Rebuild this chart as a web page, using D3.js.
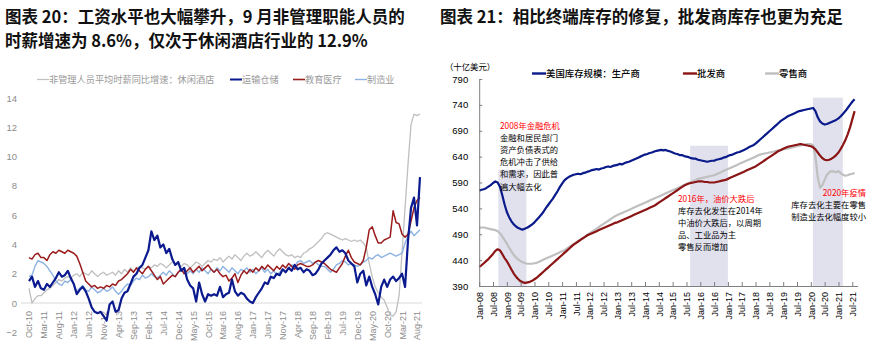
<!DOCTYPE html>
<html><head><meta charset="utf-8">
<script src="https://cdn.jsdelivr.net/npm/d3@7/dist/d3.min.js"></script>
<style>
body{margin:0;background:#fff;}
svg{display:block;}
</style></head><body>
<svg id="c" width="877" height="350"></svg>
<script>
// ---------------- LEFT CHART DATA (monthly, Oct-2010 .. Sep-2021) ----------------
const wageTickLabels = ["Oct-10","Mar-11","Aug-11","Jan-12","Jun-12","Nov-12","Apr-13","Sep-13","Feb-14","Jul-14","Dec-14","May-15","Oct-15","Mar-16","Aug-16","Jan-17","Jun-17","Nov-17","Apr-18","Sep-18","Feb-19","Jul-19","Dec-19","May-20","Oct-20","Mar-21","Aug-21"];
const wageYTicks = [-2,0,2,4,6,8,10,12,14];
const wageSeriesNames = ["非管理人员平均时薪同比增速：休闲酒店","运输仓储","教育医疗","制造业"];
const leisure = [1.0,0.0,0.3,
 0.5,0.5,0.7,0.9,1.0,1.2,1.4,1.6,1.5,1.7,1.8,1.7,
 1.9,2.0,1.8,2.1,2.0,1.9,2.2,2.0,1.8,2.0,2.1,1.9,
 2.0,2.1,1.9,2.2,2.0,2.3,2.1,2.4,2.2,2.3,2.5,2.4,
 2.3,2.5,2.4,2.6,2.5,2.7,2.6,2.4,2.6,2.8,2.7,2.6,
 2.5,2.7,2.6,2.4,2.6,2.8,2.7,2.5,2.7,2.9,2.8,3.0,
 2.9,3.1,2.8,3.0,3.2,3.0,3.3,3.1,2.9,3.2,3.4,3.2,
 3.3,3.5,3.3,3.1,3.4,3.6,3.4,3.2,3.5,3.7,3.5,3.3,
 3.2,3.3,3.1,3.2,3.1,3.4,3.5,3.7,3.8,4.0,4.2,4.4,
 4.7,4.8,4.7,4.6,4.5,4.4,4.3,4.4,4.3,4.2,4.3,4.2,
 4.3,4.1,3.8,2.7,1.8,1.1,0.7,0.4,0.2,-0.3,-0.8,-0.9,
 -0.6,0.5,3.5,6.5,9.5,12.2,12.9,12.8,12.9];
const transport = [1.5,1.8,1.1,
 1.5,1.0,0.9,1.3,1.1,1.4,1.7,2.1,1.8,1.9,2.2,1.7,
 1.3,0.6,0.9,1.1,0.8,0.3,-0.3,-0.6,-0.7,-0.6,-0.9,-1.2,
 -0.1,0.1,-0.6,-0.5,0.3,0.7,0.8,1.3,1.8,2.0,2.4,2.6,
 3.1,3.6,4.9,4.3,4.6,3.8,4.0,3.4,3.7,3.0,2.6,2.8,
 2.2,2.4,1.6,1.2,1.0,0.1,1.4,0.6,0.1,0.6,0.5,0.6,
 0.5,1.1,0.4,0.6,0.7,1.6,0.8,0.5,0.7,0.6,0.3,0.1,
 0.0,0.4,0.7,1.0,1.4,1.3,1.8,1.7,2.0,1.9,2.3,2.1,
 2.4,2.2,2.6,2.3,2.4,2.1,2.3,2.2,1.9,2.0,2.3,2.7,
 2.9,3.1,3.3,3.6,3.8,3.5,3.6,3.4,2.9,2.7,2.5,1.4,
 2.0,2.2,1.2,1.8,1.1,0.6,-0.1,1.1,1.6,1.1,1.6,1.8,
 1.5,1.7,2.0,1.1,4.3,6.5,7.2,5.3,8.6];
const eduHealth = [3.1,3.0,3.3,
 3.4,3.1,3.1,2.9,3.3,3.5,3.4,3.6,3.5,3.4,3.6,3.5,
 3.4,3.2,2.7,2.1,1.5,1.3,1.1,1.2,1.0,1.1,1.0,1.2,
 1.1,1.3,1.2,1.5,1.6,1.8,2.0,2.3,2.1,2.4,2.2,2.0,
 2.3,2.5,2.2,1.9,1.6,1.8,1.3,1.5,1.7,1.9,1.8,2.1,
 2.3,2.0,2.2,2.4,2.1,2.3,2.5,2.2,2.4,2.6,2.3,2.1,
 2.3,2.0,1.8,1.9,1.5,1.7,2.0,1.4,1.9,2.2,2.0,2.3,
 2.1,2.4,2.2,2.5,2.3,2.6,2.4,2.2,2.5,2.3,2.6,2.4,
 2.7,2.5,2.3,2.6,2.7,2.6,2.5,2.5,2.6,2.8,2.9,2.8,
 2.7,2.5,2.3,2.2,2.1,2.4,2.7,3.2,3.6,3.1,2.8,2.7,
 2.6,2.9,3.8,5.0,5.2,4.6,4.1,4.1,4.3,4.4,4.5,6.3,
 5.5,5.4,4.7,4.5,4.7,5.6,6.5,7.0,7.2];
const manufacturing = [1.8,1.9,2.5,
 2.9,2.8,2.7,2.5,2.2,1.9,1.5,1.3,1.2,1.5,1.4,1.6,
 1.3,0.8,1.0,1.2,0.9,0.8,1.1,0.9,0.7,0.8,1.0,0.8,
 0.9,1.1,0.8,0.6,0.8,1.1,1.3,1.2,1.5,1.7,1.6,1.9,
 1.7,1.8,2.0,1.8,1.7,1.9,2.1,1.9,2.2,2.0,1.8,2.1,
 2.3,2.1,2.0,2.2,2.0,2.3,2.1,2.4,2.2,2.0,2.3,2.1,
 2.4,2.2,2.5,2.3,2.1,2.4,2.2,2.0,2.3,2.2,2.4,2.1,
 2.3,2.0,2.2,2.4,2.1,2.3,2.0,2.2,1.9,2.1,2.3,2.1,
 2.4,2.6,2.5,2.8,2.9,2.7,2.8,2.9,2.7,2.8,2.6,2.5,
 2.5,2.3,2.1,2.3,2.6,2.7,2.9,2.8,2.6,2.7,2.6,2.5,
 2.6,2.8,2.9,3.1,3.0,3.2,3.3,3.1,3.2,3.3,3.4,3.3,
 3.2,3.3,3.4,4.1,4.6,4.9,4.6,4.8,5.0];

// ---------------- RIGHT CHART DATA (monthly, Jan-2008 .. Aug-2021, $bn) ----------------
const invTickLabels = ["Jan-08","Jul-08","Jan-09","Jul-09","Jan-10","Jul-10","Jan-11","Jul-11","Jan-12","Jul-12","Jan-13","Jul-13","Jan-14","Jul-14","Jan-15","Jul-15","Jan-16","Jul-16","Jan-17","Jul-17","Jan-18","Jul-18","Jan-19","Jul-19","Jan-20","Jul-20","Jan-21","Jul-21"];
const invYTicks = [390,440,490,540,590,640,690,740,790];
const invSeriesNames = ["美国库存规模：生产商","批发商","零售商"];
const manufacturers = [
 574,576,577,579,582,585,589,592,590,582,566,548,
 533,523,515,509,505,502,500,499,501,503,506,509,
 513,518,523,528,534,541,547,553,559,566,573,581,
 588,594,598,601,603,605,606,607,606,608,609,611,
 612,614,615,616,615,617,618,620,621,620,622,623,
 624,626,625,627,629,630,632,634,636,638,640,642,
 644,645,647,648,650,651,652,653,652,653,651,650,
 648,646,645,643,643,641,640,639,637,636,636,634,
 633,632,631,630,631,632,632,634,635,636,638,639,
 641,643,644,646,648,649,651,653,655,658,660,662,
 665,669,673,677,681,685,689,693,697,701,705,709,
 712,715,718,720,722,724,726,728,729,730,731,732,
 733,734,728,716,708,704,702,703,705,707,709,711,
 714,718,723,728,734,740,746,751];
const wholesalers = [
 427,430,434,438,442,447,452,458,461,459,452,444,
 438,430,422,414,408,403,399,397,396,397,398,400,
 403,406,410,414,418,422,426,430,434,438,442,446,
 450,454,458,462,466,470,473,476,479,482,485,488,
 490,492,494,496,498,500,502,504,506,508,510,512,
 513,515,517,519,521,523,525,527,529,531,533,535,
 537,539,541,543,545,548,551,554,557,560,563,566,
 569,572,575,578,581,584,586,588,589,590,591,592,
 592,592,591,591,590,590,590,591,592,593,594,595,
 597,599,601,603,605,607,609,611,613,615,617,619,
 621,624,627,630,633,636,639,642,645,648,651,653,
 655,657,659,660,661,662,663,664,664,663,662,661,
 660,658,654,648,642,637,634,633,634,636,639,643,
 648,655,663,672,683,696,712,728];
const retailers = [
 502,503,503,502,501,500,499,498,496,492,486,479,
 472,464,457,450,445,441,438,436,434,433,433,433,
 434,435,437,439,441,443,445,447,449,451,453,455,
 457,459,462,465,468,471,474,477,480,483,486,489,
 492,495,498,501,504,507,510,513,516,519,522,525,
 527,529,531,533,535,537,539,541,543,545,547,549,
 551,553,555,557,559,561,563,565,567,569,571,573,
 575,577,579,581,583,585,587,589,591,593,595,597,
 598,599,600,601,602,603,604,606,608,610,612,614,
 616,618,620,622,624,626,628,630,632,634,636,638,
 640,642,644,645,646,647,648,649,650,651,652,653,
 654,655,656,657,658,659,660,661,662,663,664,664,
 664,662,640,600,580,585,595,605,610,612,611,610,
 612,608,605,603,604,606,607,608];
// shaded episodes (month index from Jan-08) and their box top ($bn)
const shadeStart = [8.3, 91.6, 144.9];
const shadeEnd   = [20.5, 108.0, 157.9];
const shadeTop   = [615, 661, 754];

// ---------------- DRAW ----------------
const svg = d3.select("#c");
const CJK = "'Noto Sans CJK SC','Noto Sans',sans-serif";
const ARIAL = "'Liberation Sans',Arial,sans-serif";

// titles
svg.append("text").attr("x",5).attr("y",23).text("图表 20：工资水平也大幅攀升，9 月非管理职能人员的")
  .attr("font-family",CJK).attr("font-weight",700).attr("font-size",16.5).attr("fill","#111");
svg.append("text").attr("x",5).attr("y",47).text("时薪增速为 8.6%，仅次于休闲酒店行业的 12.9%")
  .attr("font-family",CJK).attr("font-weight",700).attr("font-size",16.5).attr("fill","#111");
svg.append("text").attr("x",440).attr("y",23).text("图表 21：相比终端库存的修复，批发商库存也更为充足")
  .attr("font-family",CJK).attr("font-weight",700).attr("font-size",16.5).attr("fill","#111");

// ===== LEFT =====
const xL = d3.scaleLinear().domain([0,130]).range([29,417]);
const yL = d3.scaleLinear().domain([0,14]).range([303,98]);
const gL = svg.append("g");

gL.append("line").attr("x1",21).attr("x2",422).attr("y1",yL(0)).attr("y2",yL(0))
  .attr("stroke","#d9d9d9").attr("stroke-width",1);

const axYL = gL.append("g").attr("transform","translate(20,0)")
  .call(d3.axisLeft(yL).tickValues(wageYTicks).tickSize(0).tickPadding(3));
axYL.select(".domain").remove();
axYL.selectAll("text").attr("font-family",ARIAL).attr("font-size",9.5).attr("fill","#8c8c8c");

const axXL = gL.append("g").attr("transform",`translate(0,${yL(0)})`)
  .call(d3.axisBottom(xL).tickValues(d3.range(0,131,5)).tickFormat((d,i)=>wageTickLabels[i]).tickSize(0));
axXL.select(".domain").remove();
axXL.selectAll("text").attr("transform","rotate(-90)").attr("x",-8).attr("y",0).attr("dy","0.33em")
  .attr("text-anchor","end").attr("font-family",ARIAL).attr("font-size",9).attr("fill","#8c8c8c");

const lineL = d3.line().x((d,i)=>xL(i)).y(d=>yL(d));
const leftSeries = [
  {v:leisure, c:"#bfbfbf", w:1.3},
  {v:manufacturing, c:"#8db3e2", w:1.4},
  {v:eduHealth, c:"#9b1c1c", w:1.5},
  {v:transport, c:"#0b1a8e", w:2.2}
];
leftSeries.forEach(s=>{
  gL.append("path").datum(s.v).attr("d",lineL).attr("fill","none")
    .attr("stroke",s.c).attr("stroke-width",s.w).attr("stroke-linejoin","round");
});

// left legend
const legL = [
  {x:37, c:"#bfbfbf", name:wageSeriesNames[0], w:1.2},
  {x:230, c:"#0b1a8e", name:wageSeriesNames[1], w:2},
  {x:293, c:"#9b1c1c", name:wageSeriesNames[2], w:1.6},
  {x:355, c:"#8db3e2", name:wageSeriesNames[3], w:1.4}
];
legL.forEach(l=>{
  gL.append("line").attr("x1",l.x).attr("x2",l.x+12).attr("y1",79.5).attr("y2",79.5)
    .attr("stroke",l.c).attr("stroke-width",l.w);
  gL.append("text").attr("x",l.x+12).attr("y",83).text(l.name)
    .attr("font-family",CJK).attr("font-size",9.2).attr("fill","#999");
});

// ===== RIGHT =====
const xR = d3.scaleLinear().domain([0,164.35]).range([479.2,857.7]);
const yR = d3.scaleLinear().domain([390,790]).range([286,79]);
const gR = svg.append("g");

// shading
shadeStart.forEach((s,i)=>{
  gR.append("rect").attr("x",xR(s)).attr("width",xR(shadeEnd[i])-xR(s))
    .attr("y",yR(shadeTop[i])).attr("height",yR(390)-yR(shadeTop[i]))
    .attr("fill","#e1e1ee");
});

const lineR = d3.line().x((d,i)=>xR(i)).y(d=>yR(d));
[
  {v:retailers, c:"#bfbfbf"},
  {v:wholesalers, c:"#8b1414"},
  {v:manufacturers, c:"#0a1a8a"}
].forEach(s=>{
  gR.append("path").datum(s.v).attr("d",lineR).attr("fill","none")
    .attr("stroke",s.c).attr("stroke-width",2.2).attr("stroke-linejoin","round");
});

const axYR = gR.append("g").attr("transform",`translate(${xR(0)},0)`)
  .call(d3.axisLeft(yR).tickValues(invYTicks).tickSizeInner(-3).tickSizeOuter(0).tickPadding(11));
axYR.select(".domain").attr("stroke","#7f7f7f");
axYR.selectAll(".tick line").attr("stroke","#7f7f7f");
axYR.selectAll("text").attr("font-family",ARIAL).attr("font-size",9.5).attr("fill","#000");

const axXR = gR.append("g").attr("transform",`translate(0,${yR(390)})`)
  .call(d3.axisBottom(xR).tickValues(d3.range(0,163,6)).tickFormat((d,i)=>invTickLabels[i]).tickSizeInner(-4).tickSizeOuter(0));
axXR.select(".domain").attr("stroke","#7f7f7f");
axXR.selectAll(".tick line").attr("stroke","#7f7f7f");
axXR.selectAll("text").attr("transform","rotate(-90)").attr("x",-6).attr("y",0).attr("dy","0.36em")
  .attr("text-anchor","end").attr("font-family",ARIAL).attr("font-size",9).attr("fill","#000");

// unit
gR.append("text").attr("x",445).attr("y",70).text("（十亿美元）")
  .attr("font-family",CJK).attr("font-size",8.4).attr("fill","#000");

// right legend
const legR = [
  {x:532, c:"#0a1a8a", name:invSeriesNames[0]},
  {x:683, c:"#8b1414", name:invSeriesNames[1]},
  {x:765, c:"#bfbfbf", name:invSeriesNames[2]}
];
legR.forEach(l=>{
  gR.append("line").attr("x1",l.x).attr("x2",l.x+14).attr("y1",73.5).attr("y2",73.5)
    .attr("stroke",l.c).attr("stroke-width",2.4);
  gR.append("text").attr("x",l.x+14).attr("y",77).text(l.name)
    .attr("font-family",CJK).attr("font-size",9.4).attr("font-weight",500).attr("fill","#000");
});

// annotations (one text element per line)
function note(x, y, lines, anchor){
  lines.forEach((s,i)=>{
    gR.append("text").attr("x",x).attr("y",y+i*12.1).text(s)
      .attr("font-family",CJK).attr("font-size",8.3)
      .attr("text-anchor",anchor||"start")
      .attr("fill", i===0 ? "#ff0000" : "#000");
  });
}
note(500, 129, ["2008年金融危机","金融和居民部门","资产负债表式的","危机冲击了供给","和需求，因此普","遍大幅去化"]);
note(678, 202, ["2016年，油价大跌后","库存去化发生在2014年","中油价大跌后，以周期","品、工业品为主","零售反而增加"]);
note(866, 196, ["2020年疫情","库存去化主要在零售","制造业去化幅度较小"], "end");
</script>
</body></html>
